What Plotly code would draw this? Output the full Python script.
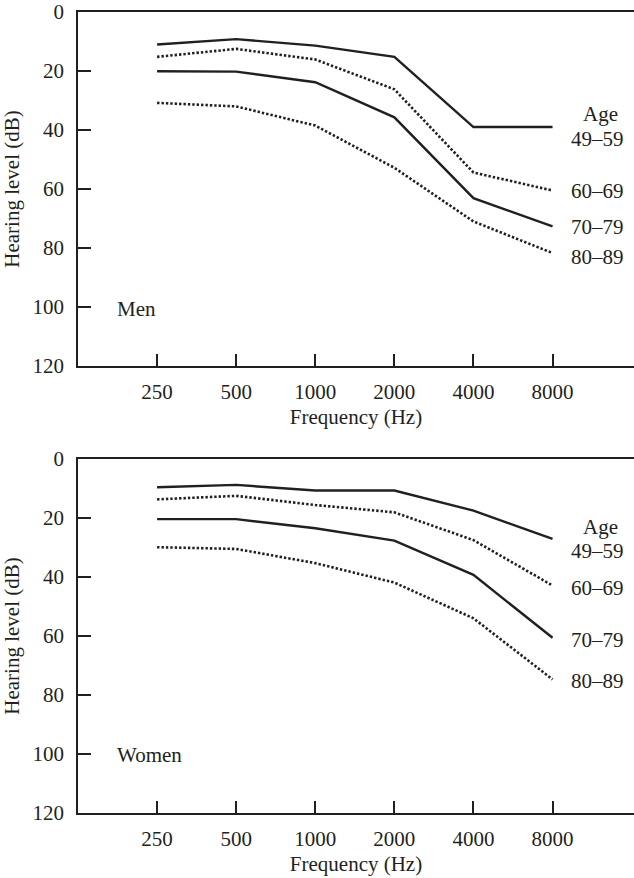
import math
import plotly.graph_objects as go

# Audiometric frequencies (Hz) and hearing levels (dB HL) by age group
frequencies = [250, 500, 1000, 2000, 4000, 8000]
freq_labels = ["250", "500", "1000", "2000", "4000", "8000"]
age_groups = ["49–59", "60–69", "70–79", "80–89"]

men_49_59 = [11.0, 9.2, 11.4, 15.2, 39.0, 39.0]
men_60_69 = [15.2, 12.5, 16.1, 26.2, 54.4, 60.5]
men_70_79 = [20.1, 20.2, 23.8, 35.7, 63.1, 72.7]
men_80_89 = [30.8, 32.0, 38.5, 52.8, 71.0, 81.7]

women_49_59 = [9.6, 8.8, 10.7, 10.7, 17.5, 27.1]
women_60_69 = [13.7, 12.5, 15.6, 18.1, 27.5, 42.9]
women_70_79 = [20.4, 20.4, 23.5, 27.7, 39.3, 60.6]
women_80_89 = [29.9, 30.5, 35.3, 41.9, 54.0, 74.7]

men = [men_49_59, men_60_69, men_70_79, men_80_89]
women = [women_49_59, women_60_69, women_70_79, women_80_89]

# Label placement (dB) beside the 8000 Hz end of each curve
men_label_db = [42.9, 60.8, 72.9, 83.1]
women_label_db = [31.2, 43.8, 61.4, 75.3]
men_age_title_db = 34.6
women_age_title_db = 23.2

INK = "#231f20"
FONT = "Liberation Serif, Times New Roman, serif"
FS = 21

# octave positions on a log2 scale relative to 250 Hz
octaves = [math.log2(f / 250) for f in frequencies]
styles = ["solid", "2.4px,2px", "solid", "2.4px,2px"]
widths = [2.4, 2.6, 2.4, 2.6]

fig = go.Figure()

for series, xa, ya in [(men, "x", "y"), (women, "x2", "y2")]:
    for vals, dash, w, name in zip(series, styles, widths, age_groups):
        fig.add_trace(go.Scatter(
            x=octaves, y=vals, mode="lines", name=name,
            line=dict(color=INK, width=w, dash=dash),
            xaxis=xa, yaxis=ya, showlegend=False, hoverinfo="skip",
        ))

x_range = [-1.0, 6.03]
common_x = dict(
    range=x_range, tickmode="array", tickvals=octaves, ticktext=freq_labels,
    ticks="inside", ticklen=12, tickwidth=1.6, tickcolor=INK,
    showline=True, linecolor=INK, linewidth=1.6, mirror=True,
    showgrid=False, zeroline=False,
    tickfont=dict(family=FONT, size=FS, color=INK),
    ticklabelstandoff=6,
    title=dict(text="Frequency (Hz)", font=dict(family=FONT, size=FS, color=INK), standoff=6),
)
common_y = dict(
    range=[120, 0], tickmode="array", tickvals=[0, 20, 40, 60, 80, 100, 120],
    ticks="inside", ticklen=13, tickwidth=2, tickcolor=INK,
    showline=True, linecolor=INK, linewidth=1.6, mirror=False,
    showgrid=False, zeroline=False,
    tickfont=dict(family=FONT, size=FS, color=INK),
    ticklabelstandoff=8,
    title=dict(text="Hearing level (dB)", font=dict(family=FONT, size=FS, color=INK), standoff=8),
)

fig.update_layout(
    width=634, height=878,
    margin=dict(l=78, r=0, t=12, b=65),
    paper_bgcolor="white", plot_bgcolor="white",
    xaxis=dict(common_x, domain=[0, 1], anchor="y"),
    yaxis=dict(common_y, domain=[0.558, 1.0], anchor="x"),
    xaxis2=dict(common_x, domain=[0, 1], anchor="y2"),
    yaxis2=dict(common_y, domain=[0.0, 0.442], anchor="x2"),
)

label_x = octaves[-1] + 0.21
age_x = octaves[-1] + 0.61
for xa, ya, dbs, title_db, panel_name in [
    ("x", "y", men_label_db, men_age_title_db, "Men"),
    ("x2", "y2", women_label_db, women_age_title_db, "Women"),
]:
    fig.add_annotation(x=age_x, y=title_db, xref=xa, yref=ya, text="Age",
                       showarrow=False, xanchor="center", yanchor="middle",
                       font=dict(family=FONT, size=FS, color=INK))
    for name, db in zip(age_groups, dbs):
        fig.add_annotation(x=label_x, y=db, xref=xa, yref=ya, text=name,
                           showarrow=False, xanchor="left", yanchor="middle",
                           font=dict(family=FONT, size=FS, color=INK))
    fig.add_annotation(x=-0.53, y=100.5, xref=xa, yref=ya, text=panel_name,
                       showarrow=False, xanchor="left", yanchor="middle",
                       font=dict(family=FONT, size=FS, color=INK))

fig.write_html("out.html")
